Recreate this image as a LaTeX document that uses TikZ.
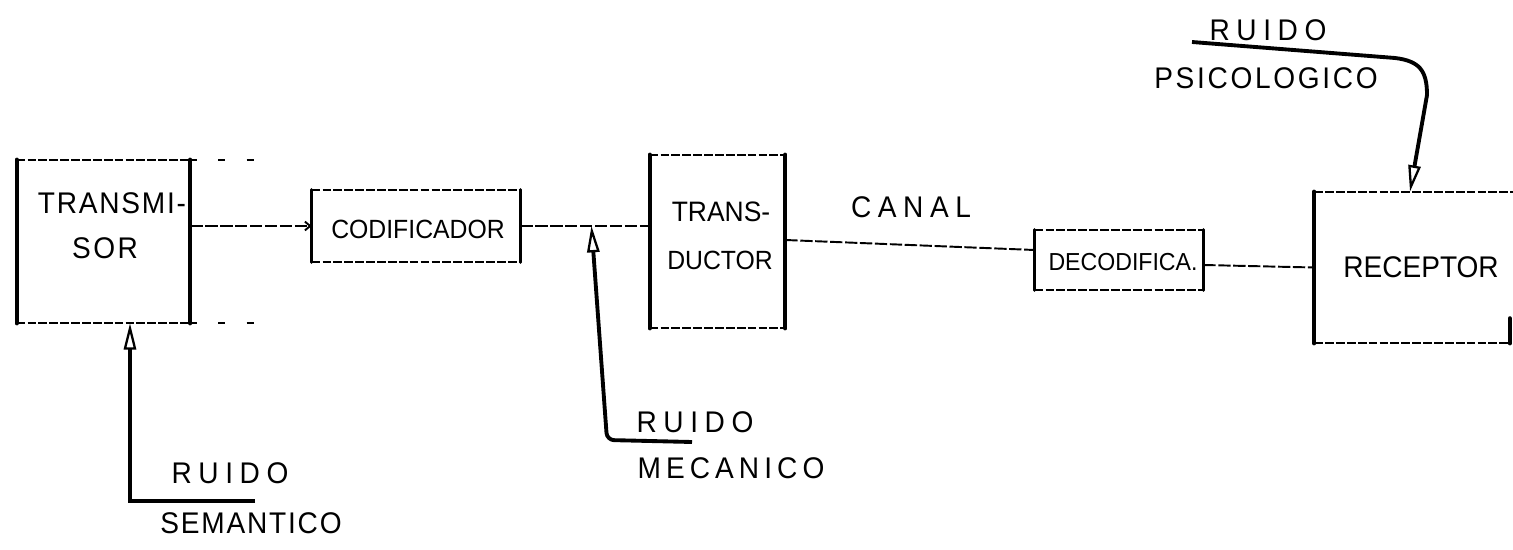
\documentclass[tikz,border=0pt]{standalone}
\usepackage{fontspec}
\setmainfont{Liberation Sans}
\usetikzlibrary{arrows.meta,calc}
\newcommand\hf[2]{\fontsize{#1}{#1}\selectfont\addfontfeature{LetterSpace=#2,FakeStretch=0.94}}
\newcommand\drawhandbox[1]{%
  \draw[side] (#1.north west) -- (#1.south west);
  \draw[side] (#1.north east) -- (#1.south east);
  \draw[rim] (#1.north west) -- (#1.north east);
  \draw[rim] (#1.south west) -- (#1.south east);}
\begin{document}
\begin{tikzpicture}[x=0.02cm,y=-0.02cm,
  side/.style={line width=2.4pt, line cap=round},
  rim/.style={line width=1.2pt, dash pattern=on 5pt off 1.2pt},
  sparse/.style={line width=1pt, dash pattern=on 4pt off 12pt},
  flow/.style={line width=1.1pt, dash pattern=on 7pt off 1.5pt},
  noise/.style={line width=2.2pt, -{Triangle[open, length=15pt, width=7pt, line width=1.3pt]}},
  box/.style={draw=none, inner sep=0pt, rectangle},
  hand/.style={inner sep=0pt}]

\useasboundingbox (0,0) rectangle (1513,550);

% boxes
\node[box, minimum width=3.46cm, minimum height=3.26cm] (tx)  at (103.5,241.5) {};
\node[box, minimum width=4.16cm, minimum height=1.44cm] (cod) at (416,226) {};
\node[box, minimum width=2.70cm, minimum height=3.46cm] (tr)  at (717.5,241.5) {};
\node[box, minimum width=3.36cm, minimum height=1.20cm] (dec) at (1119,260) {};
\node[box, minimum width=3.90cm, minimum height=3.02cm] (rc)  at (1412,267.5) {};

\drawhandbox{tx}
\drawhandbox{tr}
\begin{scope}[side/.append style={line width=1.8pt}]
\drawhandbox{cod}
\drawhandbox{dec}
\end{scope}
\draw[sparse] (tx.north east) -- ++(80,0);
\draw[sparse] (tx.south east) -- ++(80,0);
\draw[side] (rc.north west) -- (rc.south west);
\draw[rim] (rc.north west) -- ++(200,0);
\draw[rim] (rc.south west) -- (rc.south east);
\draw[side] (rc.south east) -- ++(0,-25);

% texts
\node[hand, font=\hf{17}{6}]  (tT1) at (112,203) {TRANSMI-};
\node[hand, font=\hf{17}{8}]  (tT2) at (105,248) {SOR};
\node[hand, font=\hf{15}{0}]  (tC)  at (418,229) {CODIFICADOR};
\node[hand, font=\hf{16}{0}]  (tD1) at (721,212) {TRANS-};
\node[hand, font=\hf{15}{0}]  (tD2) at (720,260) {DUCTOR};
\node[hand, font=\hf{17}{22}] (tCa) at (911,207) {CANAL};
\node[hand, font=\hf{14}{0}]  (tDe) at (1123,262) {DECODIFICA.};
\node[hand, font=\hf{17}{0}]  (tR)  at (1421,267) {RECEPTOR};

\node[hand, font=\hf{17}{22}] (pR) at (1268,30) {RUIDO};
\node[hand, font=\hf{17}{9}]  (pP) at (1266,78) {PSICOLOGICO};
\node[hand, font=\hf{17}{22}] (mR) at (695,422) {RUIDO};
\node[hand, font=\hf{17}{17}] (mM) at (731,468) {MECANICO};
\node[hand, font=\hf{17}{22}] (sR) at (230,473) {RUIDO};
\node[hand, font=\hf{17}{6}]  (sS) at (251,523) {SEMANTICO};

% flow connectors
\draw[flow, -{Straight Barb[length=3pt,width=5pt]}] (tx.east |- cod.west) -- (cod.west);
\draw[flow] (cod.east) -- (cod.east -| tr.west);
\draw[flow] ([yshift=0.03cm]tr.east) -- ([yshift=0.2cm]dec.west);
\draw[flow] ([yshift=-0.1cm]dec.east) -- (rc.west);

% noise arrows
\coordinate (semEnd) at (255,501);
\draw[noise] (semEnd) -| ([xshift=0.53cm]tx.south);

\coordinate (mecEnd) at (692,442);
\coordinate (mecTip) at ($(cod.east)!0.55!(cod.east -| tr.west)$);
\draw[noise, rounded corners=4pt] (mecEnd) -- ++(-85,-2) -- (mecTip);

\coordinate (psStart) at (1192,42);
\draw[noise] (psStart) -- (1395,58) .. controls (1419,61) and (1427,70) .. (1427,95) -- ([xshift=-0.04cm]rc.north);
\end{tikzpicture}
\end{document}
